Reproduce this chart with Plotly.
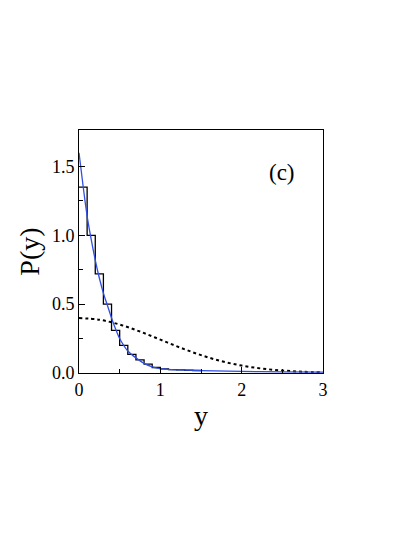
import plotly.graph_objects as go

# Histogram (bin edges and heights)
hist_edges = [0.0, 0.1, 0.2, 0.3, 0.4, 0.5, 0.6, 0.7, 0.8, 0.9, 1.0, 1.1, 1.2, 1.3, 1.4, 1.5]
hist_heights = [1.35, 1.00, 0.72, 0.50, 0.31, 0.20, 0.135, 0.095, 0.065, 0.04, 0.03, 0.025, 0.022, 0.02, 0.018]

# Blue fitted curve
fit_x = [0.0, 0.05, 0.1, 0.15, 0.2, 0.25, 0.3, 0.35, 0.4, 0.45, 0.5, 0.55, 0.6, 0.7, 0.8, 0.9, 1.0, 1.25, 1.5, 2.0, 2.5, 3.0]
fit_y = [1.60, 1.36, 1.14, 0.97, 0.82, 0.69, 0.58, 0.49, 0.40, 0.32, 0.25, 0.20, 0.16, 0.11, 0.07, 0.045, 0.032, 0.022, 0.017, 0.012, 0.008, 0.006]

# Dotted reference curve
ref_x = [0.0, 0.25, 0.5, 0.75, 1.0, 1.25, 1.5, 1.75, 2.0, 2.25, 2.5, 2.75, 3.0]
ref_y = [0.399, 0.387, 0.352, 0.301, 0.242, 0.183, 0.130, 0.086, 0.054, 0.032, 0.018, 0.009, 0.0044]

x_ticks = [0, 1, 2, 3]
y_ticks = [0.0, 0.5, 1.0, 1.5]
y_tick_labels = ["0.0", "0.5", "1.0", "1.5"]

hx = hist_edges
hy = hist_heights + [hist_heights[-1]]

fig = go.Figure()
fig.add_trace(go.Scatter(x=ref_x, y=ref_y, mode="lines", line=dict(color="black", width=2, dash="dot"), line_shape="spline"))
fig.add_trace(go.Scatter(x=hx, y=hy, mode="lines", line=dict(color="black", width=1.3), line_shape="hv"))
fig.add_trace(go.Scatter(x=fit_x, y=fit_y, mode="lines", line=dict(color="#2f4ee6", width=1.3), line_shape="spline"))

serif = "Liberation Serif, Times New Roman, serif"
fig.update_layout(
    width=415, height=537,
    margin=dict(l=71, r=100, t=122, b=172),
    paper_bgcolor="white", plot_bgcolor="white",
    showlegend=False,
    font=dict(family=serif, color="black"),
    annotations=[dict(text="(c)", x=0.832, y=0.825, xref="paper", yref="paper", showarrow=False,
                      xanchor="center", yanchor="middle",
                      font=dict(size=23, family=serif, color="black"))],
)
fig.update_xaxes(
    range=[0, 3], tickvals=x_ticks, ticks="inside", ticklen=6, tickcolor="black",
    showline=True, linecolor="black", linewidth=1, mirror=True, showgrid=False, zeroline=False,
    tickfont=dict(size=18, family=serif),
    minor=dict(tickvals=[0.5, 1.5, 2.5], ticks="inside", ticklen=4, tickcolor="black"),
    title=dict(text="y", font=dict(size=28, family=serif), standoff=6),
)
fig.update_yaxes(
    range=[0, 1.765], tickvals=y_ticks, ticktext=y_tick_labels, ticks="inside", ticklen=6, tickcolor="black",
    showline=True, linecolor="black", linewidth=1, mirror=True, showgrid=False, zeroline=False,
    tickfont=dict(size=18, family=serif),
    minor=dict(tickvals=[0.25, 0.75, 1.25], ticks="inside", ticklen=4, tickcolor="black"),
    title=dict(text="P(y)", font=dict(size=28, family=serif), standoff=4),
)
fig.write_html("out.html")
